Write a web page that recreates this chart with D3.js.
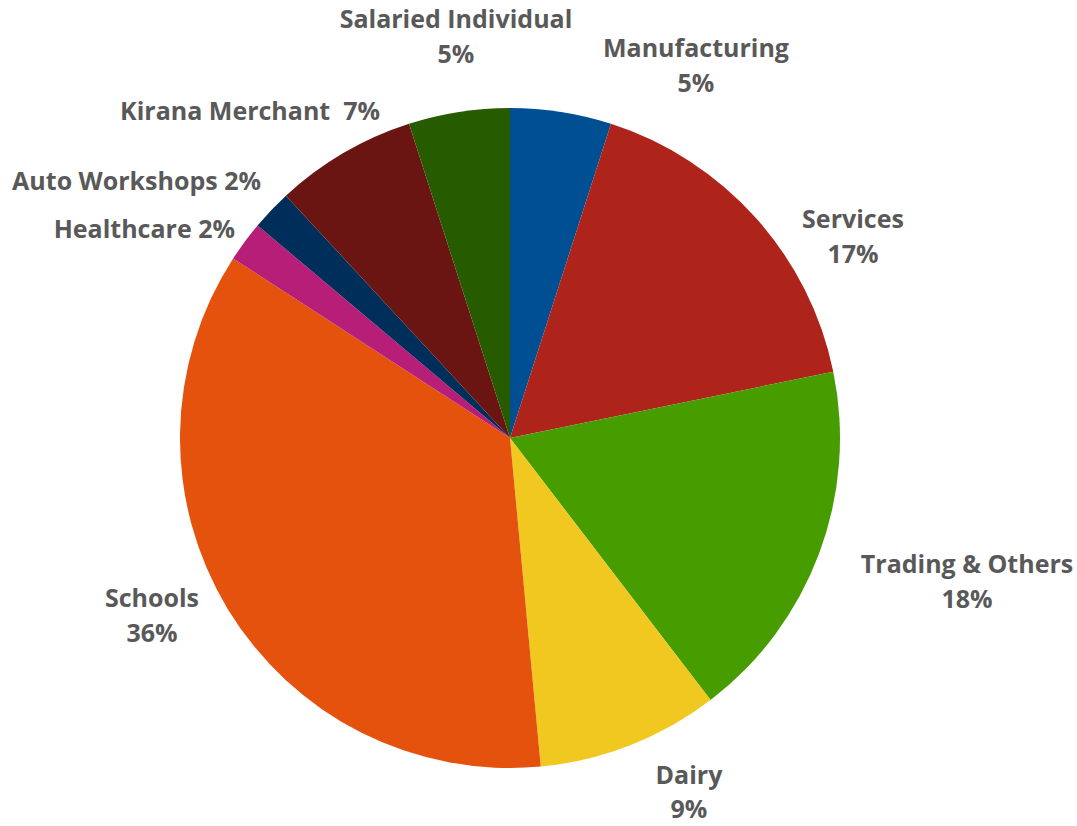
<!DOCTYPE html>
<html>
<head>
<meta charset="utf-8">
<script src="https://cdn.jsdelivr.net/npm/d3@7"></script>
<style>
  html, body { margin: 0; padding: 0; background: #fff; }
  svg text { font-family: "Open Sans", "Noto Sans", sans-serif; font-weight: 700; fill: #595959; }
</style>
</head>
<body>
<svg id="chart" width="1077" height="826"></svg>
<script>
// Portfolio share by segment, clockwise from 12 o'clock
const categories = ["Manufacturing", "Services", "Trading & Others", "Dairy", "Schools",
                    "Healthcare", "Auto Workshops", "Kirana Merchant", "Salaried Individual"];
const shares = [5, 17, 18, 9, 36, 2, 2, 7, 5];
const colors = ["#004f93", "#ae231a", "#479c00", "#f0c820", "#e4520e",
                "#b71e78", "#002e5a", "#6a1512", "#275b00"];

// Label placement: two-line labels are centred, one-line labels end at x
const labelLayout = {
  "Manufacturing":       { x: 696, y: 57,  lines: 2 },
  "Services":            { x: 853, y: 228, lines: 2 },
  "Trading & Others":    { x: 967, y: 573, lines: 2 },
  "Dairy":               { x: 689, y: 784, lines: 2, gap: 34 },
  "Schools":             { x: 152, y: 607, lines: 2 },
  "Healthcare":          { x: 235, y: 238, lines: 1, sep: " " },
  "Auto Workshops":      { x: 261, y: 190, lines: 1, sep: " " },
  "Kirana Merchant":     { x: 380, y: 120, lines: 1, sep: "\u00a0 " },
  "Salaried Individual": { x: 456, y: 28,  lines: 2 }
};

const svg = d3.select("#chart");
const cx = 510, cy = 438, radius = 330;

const data = categories.map((c, i) => ({ name: c, value: shares[i], color: colors[i] }));

const pie = d3.pie().value(d => d.value).sort(null);
const arc = d3.arc().innerRadius(0).outerRadius(radius);

const g = svg.append("g").attr("transform", `translate(${cx},${cy})`);

g.selectAll("path")
  .data(pie(data))
  .join("path")
  .attr("d", arc)
  .attr("fill", d => d.data.color);

const fontSize = 25, lineGap = 35;
const labels = svg.append("g").attr("font-size", fontSize);

data.forEach(d => {
  const L = labelLayout[d.name];
  const pct = d.value + "%";
  if (L.lines === 2) {
    const t = labels.append("text").attr("text-anchor", "middle");
    t.append("tspan").attr("x", L.x).attr("y", L.y).text(d.name);
    t.append("tspan").attr("x", L.x).attr("y", L.y + (L.gap || lineGap)).text(pct);
  } else {
    labels.append("text")
      .attr("text-anchor", "end")
      .attr("x", L.x).attr("y", L.y)
      .text(d.name + L.sep + pct);
  }
});
</script>
</body>
</html>
